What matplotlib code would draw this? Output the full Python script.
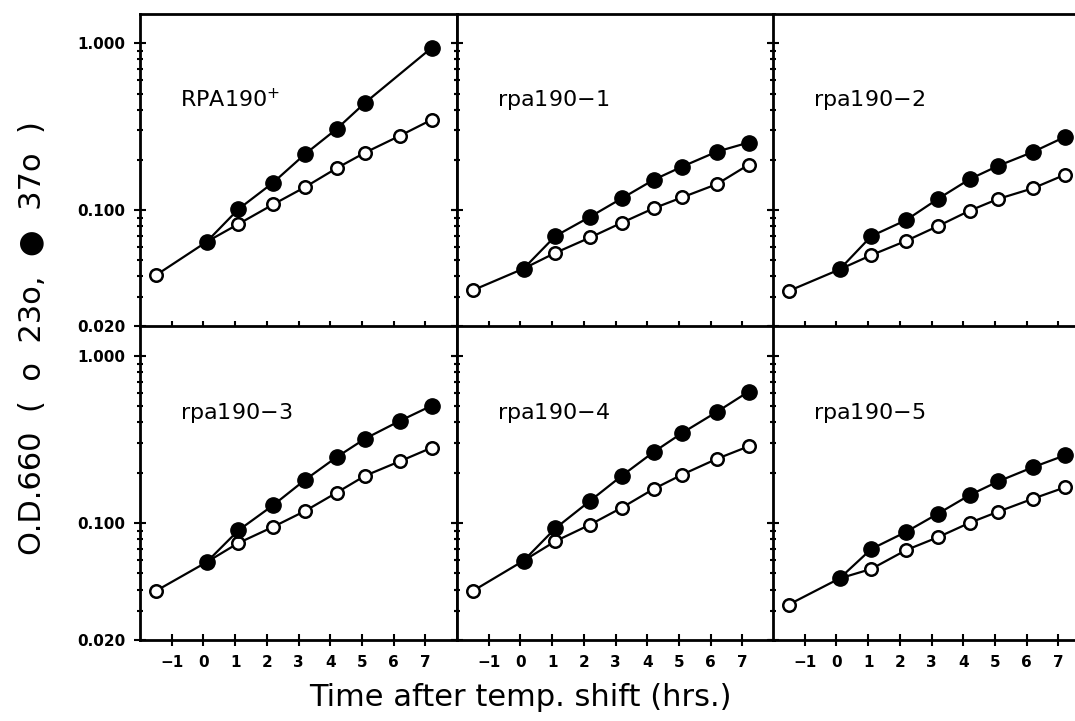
import matplotlib
matplotlib.use("Agg")
import matplotlib.pyplot as plt
from matplotlib.ticker import LogLocator, NullFormatter, FixedLocator

# time after shift (hrs); first point only in the 23o culture
t_open = [-1.5, 0.1, 1.1, 2.2, 3.2, 4.2, 5.1, 6.2, 7.2]
t_fill = [0.1, 1.1, 2.2, 3.2, 4.2, 5.1, 7.2]      # RPA190+ has no point at 6
t_fill_all = [0.1, 1.1, 2.2, 3.2, 4.2, 5.1, 6.2, 7.2]

names = ["RPA190$^{+}$", "rpa190$-$1", "rpa190$-$2",
         "rpa190$-$3", "rpa190$-$4", "rpa190$-$5"]

# O.D.660 at 23o (open)
od23_wt = [0.0406, 0.0644, 0.0823, 0.108, 0.137, 0.178, 0.221, 0.279, 0.348]
od23_1 = [0.033, 0.0445, 0.0553, 0.0684, 0.0839, 0.1023, 0.119, 0.143, 0.187]
od23_2 = [0.0327, 0.044, 0.0536, 0.0653, 0.080, 0.099, 0.1165, 0.135, 0.1625]
od23_3 = [0.0393, 0.0584, 0.076, 0.095, 0.118, 0.152, 0.192, 0.2345, 0.2825]
od23_4 = [0.0393, 0.0596, 0.0779, 0.098, 0.1237, 0.16, 0.195, 0.2425, 0.288]
od23_5 = [0.0326, 0.0467, 0.0532, 0.069, 0.0823, 0.1004, 0.117, 0.140, 0.1634]

# O.D.660 at 37o (filled)
od37_wt = [0.0644, 0.101, 0.146, 0.216, 0.306, 0.44, 0.94]
od37_1 = [0.0445, 0.0697, 0.0911, 0.1175, 0.1516, 0.182, 0.224, 0.254]
od37_2 = [0.044, 0.0697, 0.087, 0.1165, 0.153, 0.184, 0.223, 0.274]
od37_3 = [0.0584, 0.0904, 0.128, 0.181, 0.248, 0.32, 0.409, 0.504]
od37_4 = [0.0596, 0.093, 0.136, 0.192, 0.266, 0.346, 0.463, 0.612]
od37_5 = [0.0467, 0.070, 0.0887, 0.1138, 0.147, 0.1775, 0.216, 0.254]

open_sets = [od23_wt, od23_1, od23_2, od23_3, od23_4, od23_5]
fill_sets = [od37_wt, od37_1, od37_2, od37_3, od37_4, od37_5]
fill_times = [t_fill] + [t_fill_all] * 5

W, H = 1075, 721
fig = plt.figure(figsize=(W / 100, H / 100), dpi=100)

lefts = [140, 457, 773]
col_w = 317
rows = [(14, 326.5), (326.5, 640)]

tickfont = {"family": "DejaVu Sans", "weight": "bold", "size": 11}

for i in range(6):
    r, c = divmod(i, 3)
    top, bot = rows[r]
    ax = fig.add_axes([lefts[c] / W, 1 - bot / H, col_w / W, (bot - top) / H])
    ax.set_yscale("log")

    ax.plot(t_open, open_sets[i], "-o", color="black", lw=1.6,
            mfc="white", mec="black", mew=1.8, ms=9, zorder=3)
    ax.plot(fill_times[i], fill_sets[i], "-o", color="black", lw=1.6,
            mfc="black", mec="black", ms=11, zorder=4)

    ax.set_xlim(-2, 8)
    ax.set_ylim(0.02, 1.5)

    ax.xaxis.set_major_locator(FixedLocator(range(-1, 8)))
    ax.yaxis.set_major_locator(FixedLocator([0.02, 0.1, 1.0]))
    ax.yaxis.set_minor_locator(LogLocator(base=10, subs=range(2, 10)))
    ax.yaxis.set_minor_formatter(NullFormatter())

    if c == 0:
        ax.set_yticklabels(["0.020", "0.100", "1.000"], fontdict=tickfont)
    else:
        ax.set_yticklabels([])
    if r == 1:
        ax.set_xticklabels([str(v).replace("-", "\u2212") for v in range(-1, 8)],
                           fontdict=tickfont)
    else:
        ax.set_xticklabels([])

    ax.tick_params(which="both", direction="inout", left=True, right=True,
                   bottom=True, top=False, width=1.5, color="black")
    ax.tick_params(which="major", length=9, pad=6)
    ax.tick_params(which="minor", length=5)
    for s in ax.spines.values():
        s.set_linewidth(2)

    ax.text(0.125, 0.725, names[i], transform=ax.transAxes, fontsize=16,
            family="DejaVu Sans", va="center", ha="left")

fig.text(33 / W, 1 - 338 / H, "O.D.660  (  o  23o,  \u25cf  37o  )",
         rotation=90, fontsize=22, family="DejaVu Sans",
         ha="center", va="center")
fig.text(520 / W, 1 - 697 / H, "Time after temp. shift (hrs.)",
         fontsize=22, family="DejaVu Sans", ha="center", va="center")

fig.savefig("out.png", dpi=100)
